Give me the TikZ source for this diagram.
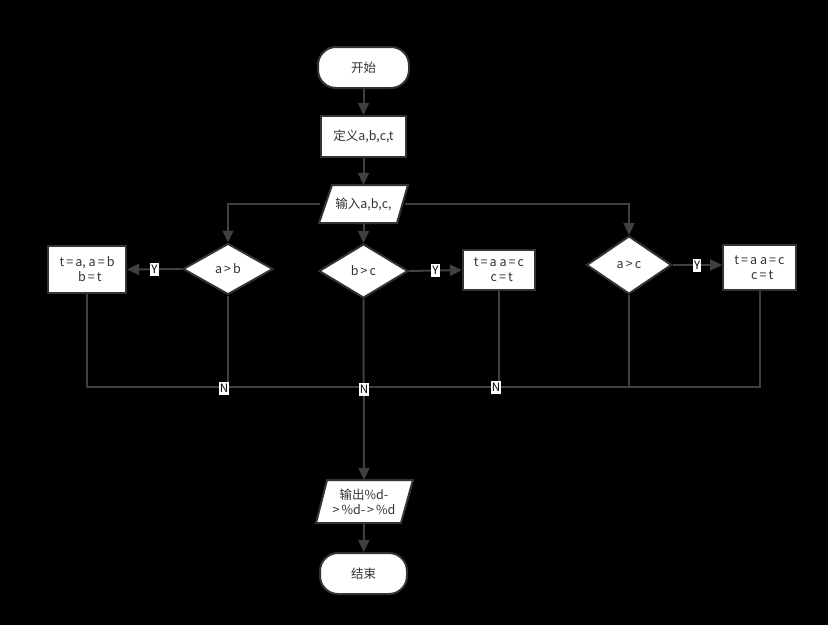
\documentclass[tikz,border=0pt]{standalone}
\usepackage{fontspec}
\newfontfamily\cjk{Noto Sans CJK SC}
\usetikzlibrary{shapes.geometric,arrows.meta}
\definecolor{linec}{RGB}{64,64,64}
\definecolor{bordc}{RGB}{51,51,51}
\definecolor{txtc}{RGB}{51,51,51}
\begin{document}
\begin{tikzpicture}[x=1pt,y=-1pt,
  txt/.style={font=\cjk\fontsize{12.5}{15}\selectfont, text=txtc, align=center},
  term/.style={txt, draw=bordc, line width=2pt, fill=white, rounded corners=18pt, minimum width=#1, minimum height=41pt, inner sep=0pt},
  proc/.style={txt, draw=bordc, line width=2pt, fill=white, inner sep=0pt},
  dec/.style={txt, diamond, draw=bordc, line width=2pt, fill=white, inner sep=0pt},
  io/.style={txt, inner sep=0pt},
  para/.style={draw=bordc, line width=2pt, fill=white, line join=miter},
  conn/.style={draw=linec, line width=2pt},
  arr/.style={conn, -{Triangle[length=12pt,width=11pt]}},
  lab/.style={fill=white, text=black, font=\cjk\fontsize{11.5}{12}\selectfont, inner sep=1pt, minimum height=13pt}
]
\useasboundingbox[fill=black] (0,0) rectangle (828,625);

% nodes
\node[term=91pt] (start) at (363.5,67.5) {开始};
\node[proc, minimum width=85pt, minimum height=41pt] (def) at (363.5,136.5) {定义a,b,c,t};
\draw[para] (332,185) -- (408,185) -- (397,223) -- (319,223) -- cycle;
\node[io, minimum width=80pt, minimum height=38pt] (in) at (363.5,204) {输入a,b,c,};
\node[dec, minimum width=90pt, minimum height=51pt] (ab) at (228,269) {a\,>\,b};
\node[dec, minimum width=89pt, minimum height=54pt] (bc) at (363.5,271) {b\,>\,c};
\node[dec, minimum width=85pt, minimum height=58pt] (ac) at (629,265) {a\,>\,c};
\node[proc, minimum width=78pt, minimum height=47pt] (b1) at (87,269.5) {t\,=\,a, a\,=\,b\\ \ \ b\,=\,t};
\node[proc, minimum width=72pt, minimum height=40pt] (b2) at (499,270) {t\,=\,a a\,=\,c\\ \ \ c\,=\,t};
\node[proc, minimum width=73pt, minimum height=45pt] (b3) at (759.5,267.5) {t\,=\,a a\,=\,c\\ \ \ c\,=\,t};
\draw[para] (327,480) -- (413,480) -- (401,523) -- (316,523) -- cycle;
\node[io, minimum width=84pt, minimum height=43pt] (out) at (364,501.5) {输出\%d-\\>\,\%d-\,>\,\%d};
\node[term=87pt] (end) at (363.5,573.5) {结束};

% coordinates
\coordinate (inL) at (320,204);
\coordinate (inR) at (405,204);
\coordinate (m) at (363.5,387);
\coordinate (abN) at (228,387);
\coordinate (b2N) at (499,387);
\coordinate (acN) at (629,387);

% connectors
\draw[arr] (start) -- (def);
\draw[arr] (def) -- (in.north);
\draw[arr] (inL) -| (ab.north);
\draw[arr] (inR) -| (ac.north);
\draw[arr] (in.south) -- (bc.north);
\draw[arr] (ab.west) -- node[lab]{Y} (b1.east);
\draw[arr] (bc.east) -- node[lab]{Y} (b2.west);
\draw[arr] (ac.east) -- node[lab]{Y} (ac.east -| b3.west);
\draw[conn] (b1.south) |- (m);
\draw[conn] (ab.south) -- (abN);
\draw[conn] (b2.south) -- (b2N);
\draw[conn] (b3.south) |- (acN);
\draw[conn] (ac.south) |- (m);
\draw[arr] (bc.south) -- (out.north);
\draw[arr] (out.south) -- (end);
\node[lab] at (224,388) {N};
\node[lab] at (496,387) {N};
\node[lab] at (364,389) {N};
\end{tikzpicture}
\end{document}
